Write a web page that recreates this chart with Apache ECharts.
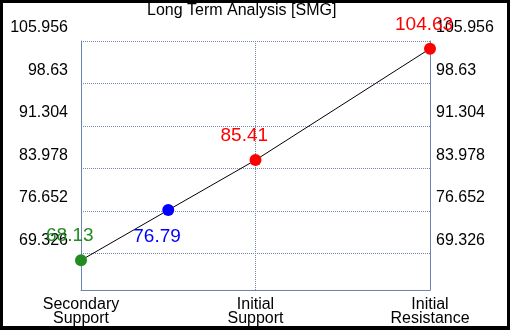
<!DOCTYPE html>
<html>
<head>
<meta charset="utf-8">
<script src="https://cdn.jsdelivr.net/npm/echarts@6/dist/echarts.min.js"></script>
<style>
html,body{margin:0;padding:0;background:#fff;}
#c{width:510px;height:330px;}
</style>
</head>
<body>
<div id="c"></div>
<script>
const titleText = 'Long Term Analysis [SMG]';
const categories = ['Secondary\nSupport', '', 'Initial\nSupport', '', 'Initial\nResistance'];
const values = [68.13, 76.79, 85.41, null, 104.63];
const yTicks = [69.326, 76.652, 83.978, 91.304, 98.63, 105.956];
const yMin = 63.0;
const yMax = 105.956;

const pointColors = ['#228b22', '#0000ff', '#ff0000', null, '#ff0000'];
const labelBelow = [false, true, false, false, false];

const FONT = 'Liberation Sans, Arial, sans-serif';
const axisColor = '#6c83b0';
const gridColor = '#7586a8';

const seriesData = values.map((v, i) => {
  if (v === null) return null;
  return {
    value: v,
    itemStyle: { color: pointColors[i] },
    label: {
      show: true,
      position: 'inside',
      align: 'left',
      verticalAlign: 'middle',
      offset: [-35, labelBelow[i] ? 27 : -24],
      color: pointColors[i],
      fontSize: 19,
      fontFamily: FONT,
      formatter: (p) => String(p.value)
    }
  };
});

const chart = echarts.init(document.getElementById('c'), null, { renderer: 'canvas' });
chart.setOption({
  animation: false,
  backgroundColor: '#fff',
  title: {
    text: titleText,
    left: 147, top: 3, padding: 0,
    textStyle: { fontFamily: FONT, fontSize: 16, fontWeight: 'normal', color: '#000', lineHeight: 16 }
  },
  grid: { left: 81, right: 80, top: 41, bottom: 40, containLabel: false },
  xAxis: {
    type: 'category',
    data: categories,
    boundaryGap: false,
    axisLine: { show: true, lineStyle: { color: axisColor, width: 1 } },
    axisTick: { show: false },
    axisLabel: { interval: 0, margin: 8, color: '#000', fontFamily: FONT, fontSize: 16, lineHeight: 14 },
    splitLine: { show: true, interval: 1, lineStyle: { color: gridColor, type: 'dotted', width: 1 } }
  },
  yAxis: [
    {
      type: 'value', min: yMin, max: yMax, position: 'left',
      axisLine: { show: true, lineStyle: { color: axisColor, width: 1 } },
      axisTick: { show: false, customValues: yTicks },
      axisLabel: { customValues: yTicks, margin: 13, color: '#000', fontFamily: FONT, fontSize: 16, verticalAlign: 'bottom', lineHeight: 26 },
      splitLine: { show: true, lineStyle: { color: gridColor, type: 'dotted', width: 1 } }
    },
    {
      type: 'value', min: yMin, max: yMax, position: 'right',
      axisLine: { show: true, lineStyle: { color: axisColor, width: 1 } },
      axisTick: { show: false, customValues: yTicks },
      axisLabel: { customValues: yTicks, margin: 6, color: '#000', fontFamily: FONT, fontSize: 16, verticalAlign: 'bottom', lineHeight: 26 },
      splitLine: { show: false }
    }
  ],
  series: [{
    type: 'line',
    data: seriesData,
    connectNulls: true,
    symbol: 'circle',
    symbolSize: 12,
    lineStyle: { color: '#000', width: 1 },
    z: 5
  }],
  graphic: [
    { type: 'rect', shape: { x: 0, y: 0, width: 510, height: 3 }, style: { fill: '#000' }, z: 100 },
    { type: 'rect', shape: { x: 0, y: 0, width: 3, height: 330 }, style: { fill: '#000' }, z: 100 },
    { type: 'rect', shape: { x: 507, y: 0, width: 3, height: 330 }, style: { fill: '#000' }, z: 100 },
    { type: 'rect', shape: { x: 0, y: 326, width: 510, height: 4 }, style: { fill: '#000' }, z: 100 }
  ]
});
</script>
</body>
</html>
